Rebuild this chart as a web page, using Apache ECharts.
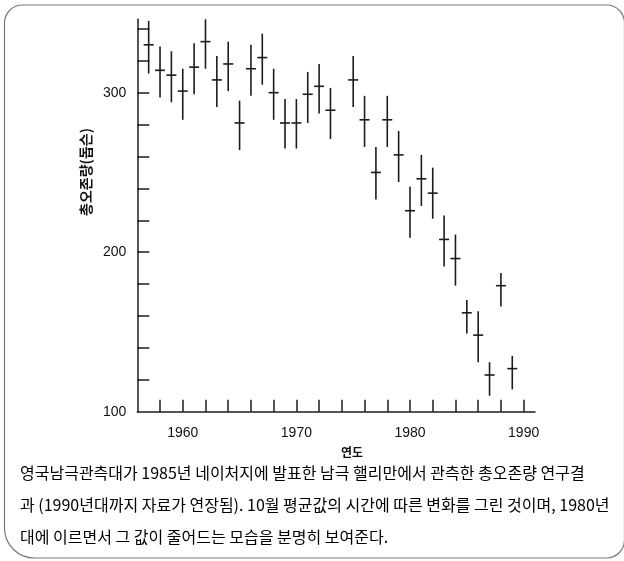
<!DOCTYPE html>
<html>
<head>
<meta charset="utf-8">
<script src="https://cdn.jsdelivr.net/npm/echarts@6/dist/echarts.min.js"></script>
<style>
  html, body { margin: 0; padding: 0; background: #fff; }
  #chart { width: 624px; height: 561px; }
</style>
</head>
<body>
<div id="chart"></div>
<script>
// October mean total ozone at Halley Bay (Dobson units), with error bar limits
const years = [1957, 1958, 1959, 1960, 1961, 1962, 1963, 1964, 1965, 1966, 1967, 1968,
  1969, 1970, 1971, 1972, 1973, 1975, 1976, 1977, 1978, 1979, 1980, 1981, 1982,
  1983, 1984, 1985, 1986, 1987, 1988, 1989];
const ozone = [330, 314, 311, 301, 316, 332, 308, 318, 281, 315, 322, 300,
  281, 281, 299, 304, 289, 308, 283, 250, 283, 261, 226, 246, 237,
  208, 196, 162, 148, 123, 179, 127];
const ozoneLow = [312, 297, 294, 283, 299, 315, 291, 301, 264, 298, 305, 283,
  265, 265, 281, 287, 271, 291, 266, 233, 266, 244, 209, 229, 221,
  191, 179, 149, 131, 110, 166, 114];
const ozoneHigh = [345, 329, 326, 315, 331, 346, 323, 332, 295, 330, 337, 315,
  296, 296, 313, 318, 303, 323, 298, 266, 298, 276, 241, 261, 253,
  223, 211, 170, 163, 131, 187, 135];

const yTicks = [120, 140, 160, 180, 200, 220, 240, 260, 280, 300, 320, 340];
const yLabels = [100, 200, 300];
const xTicks = [1958, 1960, 1962, 1964, 1966, 1968, 1970, 1972, 1974, 1976, 1978,
  1980, 1982, 1984, 1986, 1988, 1990];
const xLabels = [1960, 1970, 1980, 1990];

const yAxisTitle = '총오존량(돕슨)';
const xAxisTitle = '연도';
const captionLines = [
  '영국남극관측대가 1985년 네이처지에 발표한 남극 핼리만에서 관측한 총오존량 연구결',
  '과 (1990년대까지 자료가 연장됨). 10월 평균값의 시간에 따른 변화를 그린 것이며, 1980년',
  '대에 이르면서 그 값이 줄어드는 모습을 분명히 보여준다.'
];

const seriesData = years.map((y, i) => [y, ozone[i], ozoneLow[i], ozoneHigh[i]]);

const ink = '#1c1c1c';
const chart = echarts.init(document.getElementById('chart'), null, { renderer: 'canvas' });

const captionY = [472.5, 504.5, 537];
const captionGraphics = captionLines.map((t, i) => ({
  type: 'text',
  x: 20,
  y: captionY[i],
  style: {
    text: t,
    font: '16px "Noto Sans CJK KR"',
    fill: '#000',
    verticalAlign: 'middle'
  }
}));

chart.setOption({
  animation: false,
  backgroundColor: '#fff',
  grid: { left: 137.3, right: 89, top: 19.3, bottom: 149.3, containLabel: false },
  xAxis: {
    type: 'value',
    min: 1956,
    max: 1991,
    interval: 2,
    splitLine: { show: false },
    axisLine: { show: true, lineStyle: { color: ink, width: 1.5 } },
    axisTick: {
      show: true, inside: true, length: 12, customValues: xTicks,
      lineStyle: { color: ink, width: 1.5 }
    },
    axisLabel: {
      customValues: xLabels,
      margin: 14,
      color: '#111',
      fontFamily: 'Liberation Sans',
      fontSize: 14,
      formatter: v => String(v)
    }
  },
  yAxis: {
    type: 'value',
    min: 100,
    max: 346,
    interval: 20,
    splitLine: { show: false },
    axisLine: { show: true, lineStyle: { color: ink, width: 1.5 } },
    axisTick: {
      show: true, inside: true, length: 12, customValues: yTicks,
      lineStyle: { color: ink, width: 1.5 }
    },
    axisLabel: {
      customValues: yLabels,
      margin: 11,
      color: '#111',
      fontFamily: 'Liberation Sans',
      fontSize: 14,
      formatter: v => String(v)
    }
  },
  series: [{
    type: 'custom',
    data: seriesData,
    encode: { x: 0, y: [1, 2, 3] },
    renderItem: function (params, api) {
      const x = api.value(0);
      const c = api.coord([x, api.value(1)]);
      const lo = api.coord([x, api.value(2)]);
      const hi = api.coord([x, api.value(3)]);
      const half = 5;
      const style = { stroke: ink, lineWidth: 1.6, fill: null };
      return {
        type: 'group',
        children: [
          { type: 'line', shape: { x1: c[0], y1: hi[1], x2: c[0], y2: lo[1] }, style: style },
          { type: 'line', shape: { x1: c[0] - half, y1: c[1], x2: c[0] + half, y2: c[1] }, style: style }
        ]
      };
    }
  }],
  graphic: [
    {
      type: 'rect',
      shape: { x: 4.5, y: 5, width: 620, height: 553, r: [18, 18, 18, 30] },
      style: { fill: null, stroke: '#7a7a7a', lineWidth: 1.2 },
      silent: true
    },
    {
      type: 'text',
      x: 86,
      y: 172,
      rotation: Math.PI / 2,
      style: {
        text: yAxisTitle,
        font: 'bold 14px "Noto Sans CJK KR"',
        fill: '#111',
        align: 'center',
        verticalAlign: 'middle'
      }
    },
    {
      type: 'text',
      x: 352,
      y: 452,
      style: {
        text: xAxisTitle,
        font: 'bold 12px "Noto Sans CJK KR"',
        fill: '#111',
        align: 'center',
        verticalAlign: 'middle'
      }
    }
  ].concat(captionGraphics)
});
</script>
</body>
</html>
